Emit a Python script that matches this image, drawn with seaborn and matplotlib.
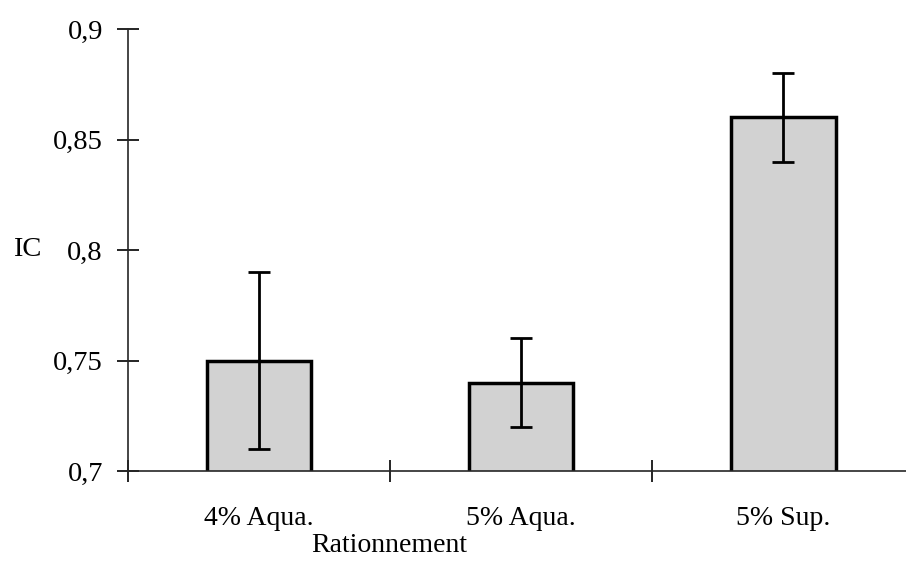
import numpy as np
import pandas as pd
import matplotlib
matplotlib.use("Agg")
import matplotlib.pyplot as plt
import seaborn as sns
from matplotlib.ticker import FixedLocator, FuncFormatter

# données
categories = ["4% Aqua.", "5% Aqua.", "5% Sup."]
ic_moyen = [0.75, 0.74, 0.86]
ic_erreur = [0.04, 0.02, 0.02]
y_ticks = [0.7, 0.75, 0.8, 0.85, 0.9]

df = pd.DataFrame({"Rationnement": categories, "IC": ic_moyen})

sns.set_style("ticks")
plt.rcParams["font.family"] = ["Liberation Serif", "DejaVu Serif"]
plt.rcParams["text.color"] = "black"
plt.rcParams["axes.labelcolor"] = "black"
plt.rcParams["xtick.color"] = "black"
plt.rcParams["ytick.color"] = "black"

fig = plt.figure(figsize=(9.06, 5.64), dpi=100)
ax = fig.add_axes([128 / 906, 93 / 564, 778 / 906, 442 / 564])

sns.barplot(data=df, x="Rationnement", y="IC", width=0.4, color="#d2d2d2",
            edgecolor="black", linewidth=2.5, errorbar=None, ax=ax)
ax.errorbar(range(len(categories)), ic_moyen, yerr=ic_erreur, fmt="none",
            ecolor="black", elinewidth=2, capsize=8, capthick=2)

ax.set_ylim(0.7, 0.9)
ax.set_xlim(-0.5, 2.469)
ax.set_yticks(y_ticks)
ax.yaxis.set_major_formatter(FuncFormatter(lambda v, p: f"{v:g}".replace(".", ",")))

# graduations de l'axe x entre les catégories
ax.xaxis.set_minor_locator(FixedLocator([-0.5, 0.5, 1.5, 2.5]))
ax.tick_params(axis="x", which="major", length=0, pad=25, labelsize=20)
ax.tick_params(axis="x", which="minor", direction="inout", length=16, width=1.2)
ax.tick_params(axis="y", direction="inout", length=16, width=1.2, pad=10, labelsize=20.5)

sns.despine(ax=ax)
for s in ["left", "bottom"]:
    ax.spines[s].set_linewidth(1.2)

ax.set_xlabel("Rationnement", fontsize=20)
ax.xaxis.set_label_coords(0.3355, -0.14)
ax.set_ylabel("IC", fontsize=20.5, rotation=0, va="center", ha="center")
ax.yaxis.set_label_coords(-0.129, 0.5)

fig.savefig("out.png", dpi=100)
